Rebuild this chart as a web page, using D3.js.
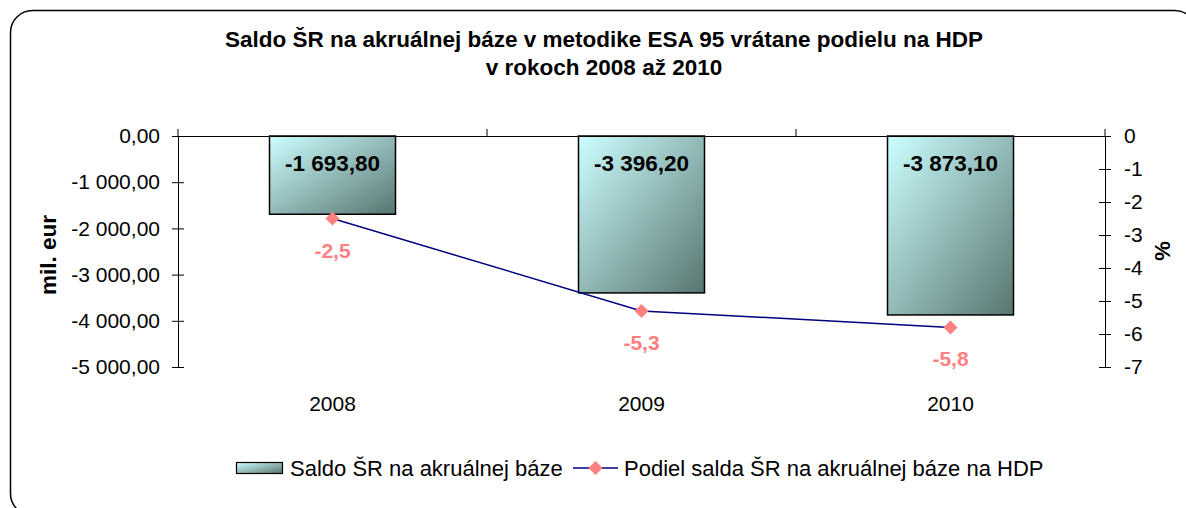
<!DOCTYPE html>
<html><head><meta charset="utf-8">
<script src="https://cdn.jsdelivr.net/npm/d3@7"></script>
<style>body{margin:0;background:#fff}svg{display:block;font-family:"Liberation Sans",Arial,sans-serif}</style>
</head><body><svg id="c" width="1186" height="508"></svg>
<script>
const categories = ["2008","2009","2010"];
const saldo = [-1693.80, -3396.20, -3873.10];
const podiel = [-2.5, -5.3, -5.8];
const leftTicks = [0,-1000,-2000,-3000,-4000,-5000];
const rightTicks = [0,-1,-2,-3,-4,-5,-6,-7];
const titleLines = ["Saldo ŠR na akruálnej báze v metodike ESA 95 vrátane podielu na HDP","v rokoch 2008 až 2010"];
const seriesNames = ["Saldo ŠR na akruálnej báze","Podiel salda ŠR na akruálnej báze na HDP"];

const svg = d3.select("#c");
const L=178,R=1105,T=136,B=367;
const FF = "Liberation Sans, Arial, sans-serif";

const defs = svg.append("defs");
const g = defs.append("linearGradient").attr("id","bg").attr("x1","0").attr("y1","0").attr("x2","1").attr("y2","1");
g.append("stop").attr("offset","0%").attr("stop-color","#CCFFFF");
g.append("stop").attr("offset","100%").attr("stop-color","#587570");

svg.append("rect").attr("x",10.5).attr("y",10.5).attr("width",1186).attr("height",505).attr("rx",22)
  .attr("fill","#fff").attr("stroke","#000").attr("stroke-width",1.5);

const fmt = v => {
  const s = Math.abs(v).toFixed(2).split(".");
  const int = s[0].replace(/\B(?=(\d{3})+(?!\d))/g," ");
  return (v<0?"-":"")+int+","+s[1];
};

const x = d3.scaleBand().domain(categories).range([L,R]).paddingInner(0).paddingOuter(0);
const yL = d3.scaleLinear().domain([-5000,0]).range([B,T]);
const yR = d3.scaleLinear().domain([-7,0]).range([B,T]);

// title
svg.append("text").attr("text-anchor","middle").attr("font-weight","bold").attr("font-size",22.5)
  .selectAll("tspan").data(titleLines).join("tspan").attr("x",604).attr("y",(d,i)=>47+i*28).text(d=>d);

// bars
const bw = 126;
svg.selectAll("rect.bar").data(saldo).join("rect").attr("class","bar")
  .attr("x",(d,i)=>x(categories[i])+x.bandwidth()/2-bw/2).attr("width",bw)
  .attr("y",yL(0)).attr("height",d=>yL(d)-yL(0))
  .attr("fill","url(#bg)").attr("stroke","#000").attr("stroke-width",1.5);
svg.selectAll("text.bv").data(saldo).join("text").attr("class","bv")
  .attr("x",(d,i)=>x(categories[i])+x.bandwidth()/2).attr("y",yL(0)+35)
  .attr("text-anchor","middle").attr("font-weight","bold").attr("font-size",22.5).text(d=>fmt(d));

// left axis
const la = svg.append("g").attr("transform",`translate(${L},0)`)
  .call(d3.axisLeft(yL).tickValues(leftTicks).tickFormat(fmt).tickSizeInner(6).tickSizeOuter(0));
la.select(".domain").attr("stroke","#000");
la.selectAll(".tick line").attr("x1",-6).attr("x2",6).attr("stroke","#000");
la.selectAll(".tick text").attr("font-size",21).attr("fill","#000").attr("x",-18).attr("font-family",FF);

// right axis
const ra = svg.append("g").attr("transform",`translate(${R},0)`)
  .call(d3.axisRight(yR).tickValues(rightTicks).tickFormat(d=>String(d)).tickSizeInner(6).tickSizeOuter(0));
ra.select(".domain").attr("stroke","#000");
ra.selectAll(".tick line").attr("x1",-6).attr("x2",6).attr("stroke","#000");
ra.selectAll(".tick text").attr("font-size",21).attr("fill","#000").attr("x",19).attr("font-family",FF);

// category axis at zero line
svg.append("line").attr("x1",L).attr("x2",R).attr("y1",T+0.5).attr("y2",T+0.5).attr("stroke","#000");
const bounds = categories.map(c=>x(c)).concat([R]);
svg.selectAll("line.ct").data(bounds).join("line").attr("class","ct")
  .attr("x1",d=>d).attr("x2",d=>d).attr("y1",T-7).attr("y2",T).attr("stroke","#000");
svg.selectAll("text.cat").data(categories).join("text").attr("class","cat")
  .attr("x",d=>x(d)+x.bandwidth()/2).attr("y",411).attr("text-anchor","middle").attr("font-size",21).text(d=>d);

// axis titles
svg.append("text").attr("transform","translate(56,255) rotate(-90)").attr("text-anchor","middle")
  .attr("font-weight","bold").attr("font-size",22.5).text("mil. eur");
svg.append("text").attr("transform","translate(1170,251) rotate(-90)").attr("text-anchor","middle")
  .attr("font-weight","bold").attr("font-size",22).text("%");

// line
const cx = (d,i)=>x(categories[i])+x.bandwidth()/2;
svg.append("path").datum(podiel).attr("fill","none").attr("stroke","#000080").attr("stroke-width",1.5)
  .attr("d",d3.line().x(cx).y(d=>yR(d)));
const diamond = d3.symbol().type(d3.symbolDiamond2).size(125);
svg.selectAll("path.pt").data(podiel).join("path").attr("class","pt")
  .attr("transform",(d,i)=>`translate(${cx(d,i)},${yR(d)})`).attr("d",diamond).attr("fill","#FF8080");
svg.selectAll("text.pv").data(podiel).join("text").attr("class","pv")
  .attr("x",cx).attr("y",d=>yR(d)+39).attr("text-anchor","middle").attr("font-weight","bold")
  .attr("font-size",21).attr("fill","#FF8080").text(d=>String(d).replace(".",","));

// legend
svg.append("rect").attr("x",236.5).attr("y",462.5).attr("width",46).attr("height",11)
  .attr("fill","url(#bg)").attr("stroke","#000").attr("stroke-width",1.2);
svg.append("text").attr("x",290).attr("y",476).attr("font-size",22).text(seriesNames[0]);
svg.append("line").attr("x1",573).attr("x2",618).attr("y1",468).attr("y2",468).attr("stroke","#000080").attr("stroke-width",1.5);
svg.append("path").attr("transform","translate(595.5,468)").attr("d",diamond).attr("fill","#FF8080");
svg.append("text").attr("x",624).attr("y",476).attr("font-size",22).text(seriesNames[1]);
</script></body></html>
